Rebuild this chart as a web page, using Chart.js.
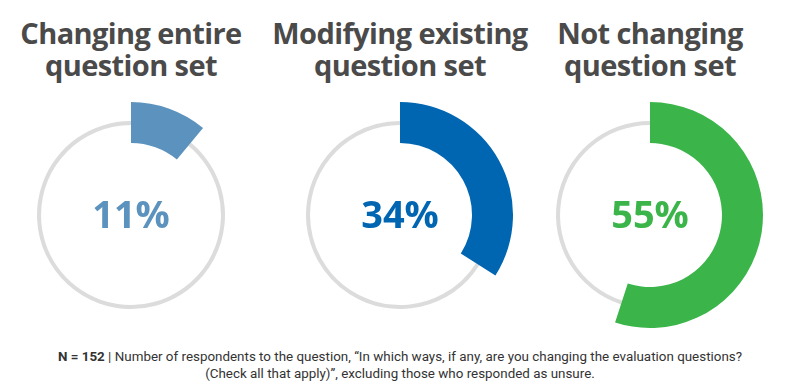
<!DOCTYPE html>
<html>
<head>
<meta charset="utf-8">
<script src="https://cdn.jsdelivr.net/npm/chart.js@4.4.0/dist/chart.umd.min.js"></script>
<style>
  html, body { margin: 0; padding: 0; background: #fff; }
  #wrap { position: relative; width: 800px; height: 392px; overflow: hidden; }
  .title {
    position: absolute; top: 17px; width: 280px; margin-left: -140px;
    text-align: center; font-family: "Open Sans", sans-serif; font-weight: 700;
    font-size: 29px; line-height: 32px; color: #4a4a4a; letter-spacing: -0.6px;
  }
  canvas { position: absolute; }
  #note {
    position: absolute; left: 0; top: 348px; width: 800px; text-align: center;
    font-family: Roboto, sans-serif; font-size: 13.4px; line-height: 17px; color: #333;
  }
</style>
</head>
<body>
<div id="wrap">
  <div id="note"><b>N = 152</b> | Number of respondents to the question, “In which ways, if any, are you changing the evaluation questions?<br>(Check all that apply)”, excluding those who responded as unsure.</div>
</div>
<script>
'use strict';

const titles = [['Changing entire', 'question set'], ['Modifying existing', 'question set'], ['Not changing', 'question set']];
const percents = [11, 34, 55];
const colors = ['#5b93be', '#0066b2', '#3bb54a'];
const centersX = [131, 400, 650];
const ringGrey = '#dcdcdc';

const wrap = document.getElementById('wrap');
const R = 113;   // outer radius of coloured arc
const cy = 215;

// draws the big percent in the middle
const centerText = {
  id: 'centerText',
  afterDraw(chart, args, opts) {
    const arc = chart.getDatasetMeta(0).data[0];
    const ctx = chart.ctx;
    ctx.save();
    ctx.font = '700 38px "Open Sans"';
    ctx.fillStyle = opts.color;
    ctx.textAlign = 'center';
    ctx.textBaseline = 'alphabetic';
    ctx.fillText(opts.text, arc.x, arc.y + 13);
    ctx.restore();
  }
};

function addCanvas(x) {
  let cv = document.createElement('canvas');
  cv.width = R * 2;
  cv.height = R * 2;
  cv.style.left = (x - R) + 'px';
  cv.style.top = (cy - R) + 'px';
  wrap.appendChild(cv);
  return cv;
}

const baseOpts = {
  responsive: false,
  animation: false,
  layout: { padding: 0 },
  elements: { arc: { borderWidth: 0 } },
  plugins: { legend: { display: false }, tooltip: { enabled: false } }
};

for (let i = 0; i < percents.length; i++) {
  let t = document.createElement('div');
  t.className = 'title';
  t.style.left = centersX[i] + 'px';
  t.innerHTML = titles[i].join('<br>');
  wrap.appendChild(t);

  let v = percents[i];
  let rest = 100 - v;

  // thin grey circle underneath (r 90..94)
  new Chart(addCanvas(centersX[i]), {
    type: 'doughnut',
    data: {
      labels: ['yes', 'other'],
      datasets: [{ data: [v, rest], backgroundColor: [ringGrey, ringGrey] }]
    },
    options: Object.assign({}, baseOpts, { radius: 94, cutout: '95.7%' })
  });

  // coloured arc on top (r 72..113)
  new Chart(addCanvas(centersX[i]), {
    type: 'doughnut',
    data: {
      labels: ['yes', 'other'],
      datasets: [{ data: [v, rest], backgroundColor: [colors[i], 'rgba(0,0,0,0)'] }]
    },
    options: Object.assign({}, baseOpts, {
      cutout: '63.7%',
      plugins: {
        legend: { display: false },
        tooltip: { enabled: false },
        centerText: { text: v + '%', color: colors[i] }
      }
    }),
    plugins: [centerText]
  });
}
</script>
</body>
</html>
